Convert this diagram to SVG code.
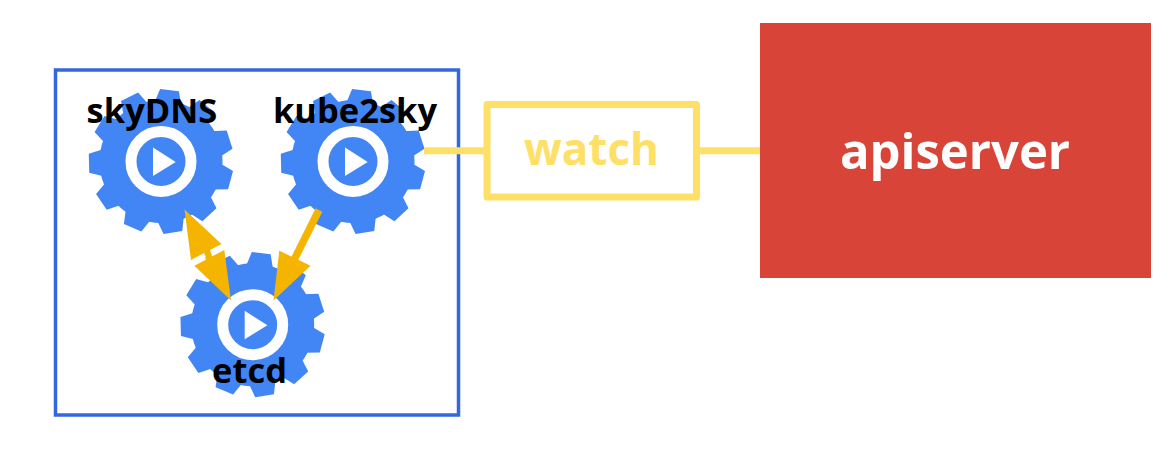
<svg xmlns="http://www.w3.org/2000/svg" xmlns:xlink="http://www.w3.org/1999/xlink" width="1176" height="464" viewBox="0 0 1176 464">
<style>
text{font-family:"Open Sans","Noto Sans",sans-serif;font-weight:700;text-anchor:middle}
.lbl{font-size:34.500px;fill:#000}
.y{stroke:#ffe066;stroke-width:7;fill:none}
.o{fill:#f4b400}
</style>
<defs>
<polygon id="t" points="56,-14 72,-9.500 72,9.500 56,14" fill="#4285f4"/>
<g id="gear">
<circle r="61.500" fill="#4285f4"/>
<use xlink:href="#t" href="#t" transform="rotate(15)"/>
<use xlink:href="#t" href="#t" transform="rotate(47.7)"/>
<use xlink:href="#t" href="#t" transform="rotate(80.5)"/>
<use xlink:href="#t" href="#t" transform="rotate(113.2)"/>
<use xlink:href="#t" href="#t" transform="rotate(145.9)"/>
<use xlink:href="#t" href="#t" transform="rotate(178.6)"/>
<use xlink:href="#t" href="#t" transform="rotate(211.4)"/>
<use xlink:href="#t" href="#t" transform="rotate(244.1)"/>
<use xlink:href="#t" href="#t" transform="rotate(276.8)"/>
<use xlink:href="#t" href="#t" transform="rotate(309.5)"/>
<use xlink:href="#t" href="#t" transform="rotate(342.3)"/>
<circle r="30" fill="none" stroke="#fff" stroke-width="11"/>
<polygon points="-8,-14 -8,14.500 14.700,0.500" fill="#fff"/>
</g>
</defs>
<rect id="cluster" x="55.500" y="70" width="403" height="345" fill="none" stroke="#3367e0" stroke-width="3.500"/>
<g id="skyDNS"><use xlink:href="#gear" href="#gear" x="161" y="161.500"/><text class="lbl" x="152" y="122.500">skyDNS</text></g>
<g id="kube2sky"><use xlink:href="#gear" href="#gear" x="353" y="161.500"/><text class="lbl" x="355" y="122.500">kube2sky</text></g>
<g id="etcd"><use xlink:href="#gear" href="#gear" x="252.700" y="324.700"/><text class="lbl" x="249.500" y="383">etcd</text></g>
<g id="connectors">
<line x1="205" y1="246" x2="211" y2="264" stroke="#f4b400" stroke-width="7"/>
<polygon class="o" points="184.500,209.500 191,260 221.700,244.300"/>
<polygon class="o" points="231,300.500 194.300,265.700 224.300,250"/>
<line x1="194.300" y1="260.500" x2="224" y2="245" stroke="#fff" stroke-width="4" stroke-dasharray="12 7"/>
<line x1="319" y1="210" x2="293" y2="262" stroke="#f4b400" stroke-width="7.500"/>
<polygon class="o" points="273.500,300.500 279.300,250.700 310.500,265.700"/>
<line class="y" x1="424" y1="150.700" x2="487" y2="150.700"/>
<line class="y" x1="696" y1="150.700" x2="760" y2="150.700"/>
</g>
<g id="watch"><rect class="y" x="487" y="104.500" width="209.500" height="92.500" stroke-linejoin="round"/><text x="591.500" y="164.500" font-size="44" fill="#ffe066">watch</text></g>
<g id="apiserver"><rect x="760" y="23" width="391" height="255" fill="#d94438"/><text x="955" y="169" font-size="49" fill="#fff">apiserver</text></g>
</svg>
